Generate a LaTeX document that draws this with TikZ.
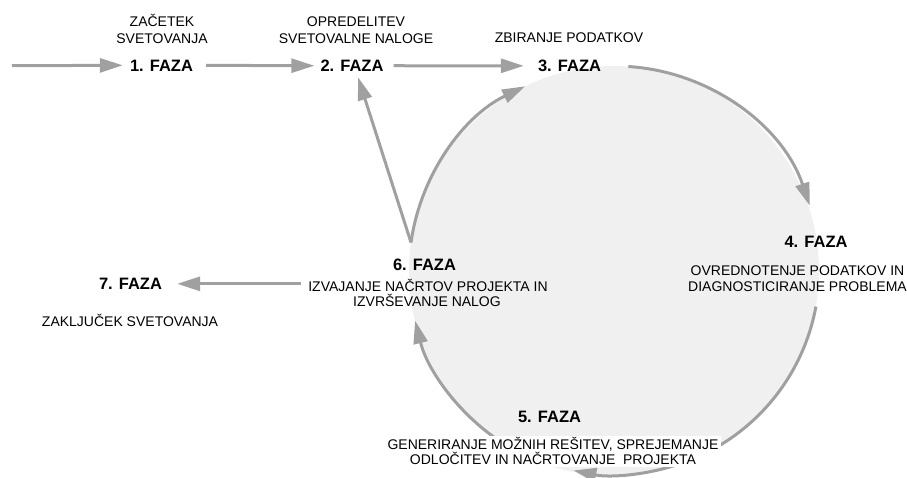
\documentclass[tikz,border=0pt]{standalone}
\usepackage{fontspec}
\setmainfont{Liberation Sans}
\usetikzlibrary{arrows.meta}
\definecolor{arrowgray}{HTML}{A0A0A0}
\definecolor{discgray}{HTML}{F0F0F0}
\tikzset{
  lbl/.style={anchor=base, inner sep=0pt, font=\fontsize{14}{17}\selectfont},
  phase/.style={anchor=base, inner sep=0pt, font=\fontsize{16.5}{20}\selectfont\bfseries},
  flow/.style={draw=arrowgray, line width=3pt, -{Triangle[length=23pt,width=14pt]}},
}
\begin{document}
\begin{tikzpicture}[x=1pt,y=-1pt]
\useasboundingbox (0,0) rectangle (907,477);
\node[circle, fill=discgray, inner sep=0pt, outer sep=0pt, minimum size=410pt] (disc) at (614,271) {};

% labels
\node[lbl] (z1a) at (162,26) {ZAČETEK};
\node[lbl] (z1b) at (162,43.3) {SVETOVANJA};
\node[lbl] (z2a) at (356,26) {OPREDELITEV};
\node[lbl] (z2b) at (356,43.3) {SVETOVALNE NALOGE};
\node[lbl] (z3) at (569,42.7) {ZBIRANJE PODATKOV};
\node[phase] (f1) at (161.5,71) {1. FAZA};
\node[phase] (f2) at (352,71.5) {2. FAZA};
\node[phase] (f3) at (569.5,71.5) {3. FAZA};
\node[phase] (f4) at (816,247) {4. FAZA};
\node[lbl] (l4a) at (797.5,275) {OVREDNOTENJE PODATKOV IN};
\node[lbl] (l4b) at (797.5,291) {DIAGNOSTICIRANJE PROBLEMA};
\node[phase] (f6) at (424.5,270) {6. FAZA};
\node[lbl] (l6a) at (428,291) {IZVAJANJE NAČRTOV PROJEKTA IN};
\node[lbl] (l6b) at (427,306.5) {IZVRŠEVANJE NALOG};
\node[phase] (f7) at (130.5,289.5) {7. FAZA};
\node[lbl] (l7) at (130,326) {ZAKLJUČEK SVETOVANJA};

% connectors
\coordinate (in0) at (12,65.7);
\draw[flow] (in0) -- ([xshift=-7pt]f1.west);
\draw[flow] ([xshift=13pt]f1.east) -- ([xshift=-6pt]f2.west);
\draw[flow] ([xshift=10pt]f2.east) -- ([xshift=-14pt]f3.west);
\draw[flow] (disc.86.4) arc[start angle=-86.4, end angle=-18.6, radius=205];
\draw[flow] (disc.-10.4) arc[start angle=10.4, end angle=101.5, radius=205];
\draw[flow] (disc.-124) arc[start angle=124, end angle=166, radius=205];
\coordinate (v6) at (disc.172);
\draw[flow] (v6) arc[start angle=-172, end angle=-115.7, radius=205];
\draw[flow] (v6) -- ([xshift=6pt,yshift=-5.5pt]f2.south);
\draw[flow] ([xshift=-7pt]l6a.west |- f7.east) -- ([xshift=15pt]f7.east);

% phase 5 block
\node[fill=white, inner sep=0pt, minimum width=336pt, minimum height=31pt] (w5) at (553,451) {};
\node[phase] (f5) at (549.5,422.7) {5. FAZA};
\node[lbl] (l5a) at (553,449) {GENERIRANJE MOŽNIH REŠITEV, SPREJEMANJE};
\node[lbl] (l5b) at (553,464.5) {ODLOČITEV IN NAČRTOVANJE \ PROJEKTA};
\end{tikzpicture}
\end{document}
